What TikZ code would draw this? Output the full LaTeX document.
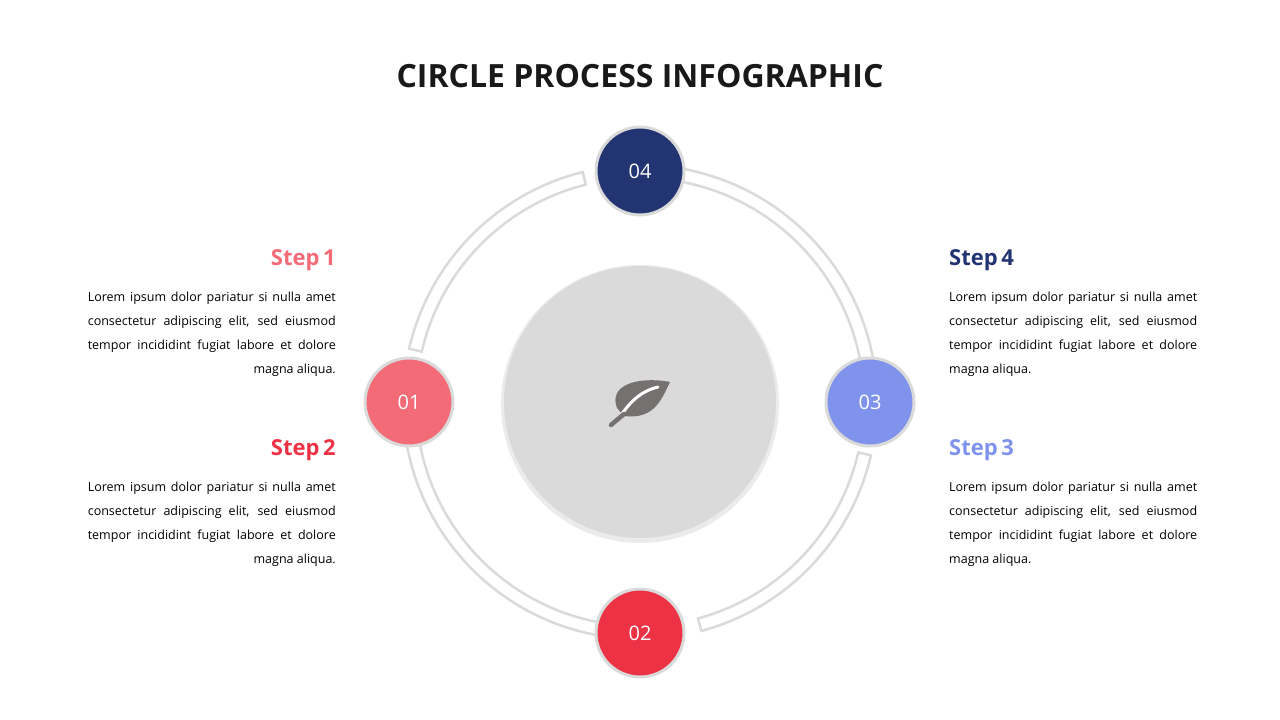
\documentclass[tikz,border=0pt]{standalone}
\usepackage{fontspec}
\setmainfont{Open Sans}
\usetikzlibrary{calc}
\definecolor{cA}{HTML}{F26B77}
\definecolor{cB}{HTML}{EE3245}
\definecolor{cC}{HTML}{7F93EC}
\definecolor{cD}{HTML}{233472}
\definecolor{ringc}{HTML}{DADADA}
\definecolor{leafc}{HTML}{767171}
\tikzset{
 ringseg/.style={draw=ringc,line width=2.5pt,fill=white},
 num/.style={circle,minimum size=88pt,draw=ringc,line width=3pt,text=white,font=\fontsize{20}{20}\selectfont,inner sep=0pt},
 head/.style={font=\fontsize{22}{22}\selectfont\bfseries,inner sep=0pt},
 bodyl/.style={font=\fontsize{12.5}{12.5}\selectfont,inner sep=0pt,anchor=east},
 bodyr/.style={font=\fontsize{12.5}{12.5}\selectfont,inner sep=0pt,anchor=west},
}
\newcommand{\fl}[1]{\makebox[248pt][s]{#1}}
\newcommand{\seg}[2]{\draw[ringseg] ($(c)+(#1:237)$) arc[start angle=#1,end angle=#2,radius=237] -- ($(c)+(#2:224)$) arc[start angle=#2,end angle=#1,radius=224] -- cycle;}
\begin{document}
\begin{tikzpicture}[x=1pt,y=1pt]
\useasboundingbox (0,0) rectangle (1280,720);
\coordinate (c) at (640,318);
\node[font=\fontsize{32}{32}\selectfont\bfseries,text=black!90] (title) at (640,644) {CIRCLE PROCESS INFOGRAPHIC};
% center
\fill[black!8] (640,316) circle (139);
\node[circle,fill=ringc,minimum size=272pt,inner sep=0pt] (mid) at (c) {};
% leaf
\fill[leafc] (617,312) .. controls (608,335) and (638,344) .. (670,338) .. controls (662,322) and (655,300) .. (624,304) -- cycle;
\draw[white,line width=3pt,line cap=round] (620,303) .. controls (632,322) and (645,330) .. (658,333);
\draw[leafc,line width=4.5pt,line cap=round] (624,306) -- (611,295);
% ring
\seg{104}{167}
\seg{-75}{-13}
\seg{0}{90}
\seg{180}{270}
\node[num,fill=cD] (n4) at ($(c)+(90:231)$) {04};
\node[num,fill=cA] (n1) at ($(c)+(180:231)$) {01};
\node[num,fill=cC] (n3) at ($(c)+(0:230)$) {03};
\node[num,fill=cB] (n2) at ($(c)+(270:231)$) {02};
% left texts
\node[head,text=cA,anchor=east] (h1) at (336,460) {Step\,1};
\node[bodyl] (l11) at (336,422) {\fl{Lorem ipsum dolor pariatur si nulla amet}};
\node[bodyl] (l12) at (336,398) {\fl{consectetur adipiscing elit, sed eiusmod}};
\node[bodyl] (l13) at (336,374) {\fl{tempor incididint fugiat labore et dolore}};
\node[bodyl] (l14) at (336,350) {magna aliqua.};
\node[head,text=cB,anchor=east] (h2) at (336,270) {Step\,2};
\node[bodyl] (l21) at (336,232) {\fl{Lorem ipsum dolor pariatur si nulla amet}};
\node[bodyl] (l22) at (336,208) {\fl{consectetur adipiscing elit, sed eiusmod}};
\node[bodyl] (l23) at (336,184) {\fl{tempor incididint fugiat labore et dolore}};
\node[bodyl] (l24) at (336,160) {magna aliqua.};
% right texts
\node[head,text=cD,anchor=west] (h4) at (949,460) {Step\,4};
\node[bodyr] (r11) at (949,422) {\fl{Lorem ipsum dolor pariatur si nulla amet}};
\node[bodyr] (r12) at (949,398) {\fl{consectetur adipiscing elit, sed eiusmod}};
\node[bodyr] (r13) at (949,374) {\fl{tempor incididint fugiat labore et dolore}};
\node[bodyr] (r14) at (949,350) {magna aliqua.};
\node[head,text=cC,anchor=west] (h3) at (949,270) {Step\,3};
\node[bodyr] (r21) at (949,232) {\fl{Lorem ipsum dolor pariatur si nulla amet}};
\node[bodyr] (r22) at (949,208) {\fl{consectetur adipiscing elit, sed eiusmod}};
\node[bodyr] (r23) at (949,184) {\fl{tempor incididint fugiat labore et dolore}};
\node[bodyr] (r24) at (949,160) {magna aliqua.};
\end{tikzpicture}
\end{document}
